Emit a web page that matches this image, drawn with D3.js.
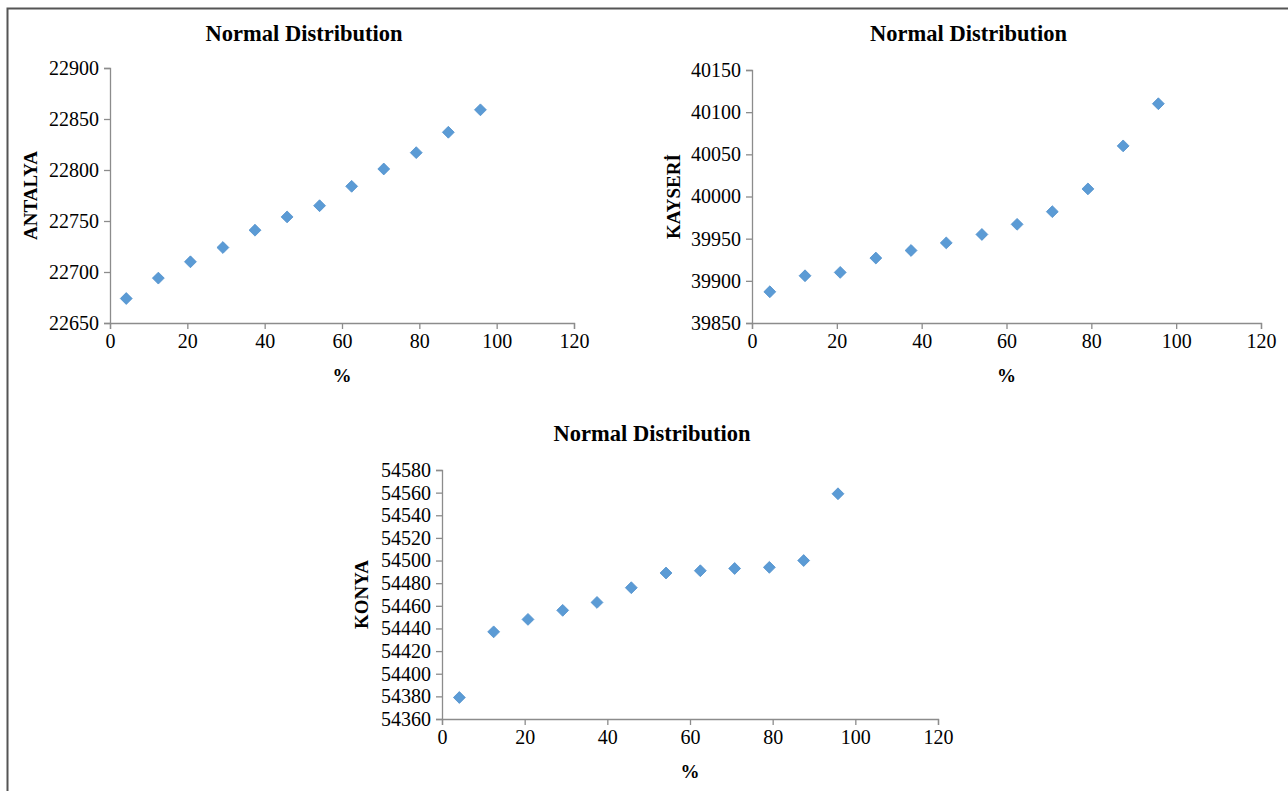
<!DOCTYPE html>
<html>
<head>
<meta charset="utf-8">
<script src="https://cdn.jsdelivr.net/npm/d3@7"></script>
<style>
  body { margin: 0; background: #fff; }
  text { font-family: "Liberation Serif", "Times New Roman", serif; }
</style>
</head>
<body>
<div id="chart"></div>
<script>
// percent positions of the 12 points (same in all three panels)
var pct = [4.2, 12.5, 20.8, 29.2, 37.5, 45.8, 54.2, 62.5, 70.8, 79.2, 87.5, 95.8];

var antalya = [22674, 22694, 22710, 22724, 22741, 22754, 22765, 22784, 22801, 22817, 22837, 22859];
var kayseri = [39887, 39906, 39910, 39927, 39936, 39945, 39955, 39967, 39982, 40009, 40060, 40110];
var konya   = [54379, 54437, 54448, 54456, 54463, 54476, 54489, 54491, 54493, 54494, 54500, 54559];

var xTicks = [0, 20, 40, 60, 80, 100, 120];
var antalyaTicks = [22650, 22700, 22750, 22800, 22850, 22900];
var kayseriTicks = [39850, 39900, 39950, 40000, 40050, 40100, 40150];
var konyaTicks = [54360, 54380, 54400, 54420, 54440, 54460, 54480, 54500, 54520, 54540, 54560, 54580];

var W = 1288, H = 791;

var svg = d3.select("#chart")
  .append("svg")
    .attr("width", W)
    .attr("height", H);

// outer frame (only top and left edges are visible)
svg.append("path")
  .attr("d", "M7.5," + H + "V8.5H" + W)
  .attr("fill", "none")
  .attr("stroke", "#555")
  .attr("stroke-width", 2);

var panels = [
  {name: "ANTALYA", vals: antalya, ticks: antalyaTicks, left: 110, right: 574, top: 68, bottom: 323,
   titleY: 36, ylabX: 33},
  {name: "KAYSERİ", vals: kayseri, ticks: kayseriTicks, left: 752, right: 1261, top: 70, bottom: 323,
   titleY: 36, ylabX: 676},
  {name: "KONYA", vals: konya, ticks: konyaTicks, left: 442, right: 938, top: 470, bottom: 719,
   titleY: 436, ylabX: 364}
];

panels.forEach(function(p) {
  var x = d3.scaleLinear().domain([0, 120]).range([p.left, p.right]);
  var y = d3.scaleLinear()
    .domain([p.ticks[0], p.ticks[p.ticks.length - 1]])
    .range([p.bottom, p.top]);

  var g = svg.append("g");

  // x axis
  var xa = g.append("g")
    .attr("transform", "translate(0," + p.bottom + ")")
    .call(d3.axisBottom(x).tickValues(xTicks).tickSizeOuter(0).tickSize(6).tickPadding(5));

  // y axis
  var ya = g.append("g")
    .attr("transform", "translate(" + p.left + ",0)")
    .call(d3.axisLeft(y).tickValues(p.ticks).tickFormat(d3.format("d")).tickSizeOuter(0).tickSize(6).tickPadding(5));

  [xa, ya].forEach(function(a) {
    a.attr("font-family", "Liberation Serif").attr("font-size", 20);
    a.select(".domain").attr("stroke", "#8c8c8c").attr("stroke-width", 1.3);
    a.selectAll(".tick line").attr("stroke", "#8c8c8c").attr("stroke-width", 1.3);
    a.selectAll(".tick text").attr("fill", "#000");
  });

  // title
  g.append("text")
    .attr("x", (p.left + p.right) / 2 - 38)
    .attr("y", p.titleY)
    .attr("text-anchor", "middle")
    .attr("dominant-baseline", "middle")
    .style("font-size", "22.5px")
    .style("font-weight", "bold")
    .text("Normal Distribution");

  // x title
  g.append("text")
    .attr("x", x(60))
    .attr("y", p.bottom + 55)
    .attr("text-anchor", "middle")
    .attr("dominant-baseline", "middle")
    .style("font-size", "19px")
    .style("font-weight", "bold")
    .text("%");

  // y title
  g.append("text")
    .attr("transform", "translate(" + p.ylabX + "," + ((p.top + p.bottom) / 2) + ") rotate(-90)")
    .attr("text-anchor", "middle")
    .attr("dominant-baseline", "middle")
    .style("font-size", "19px")
    .style("font-weight", "bold")
    .text(p.name);

  // diamond markers
  g.selectAll("path.pt")
    .data(p.vals)
    .enter()
    .append("path")
      .attr("class", "pt")
      .attr("d", d3.symbol().type(d3.symbolDiamond2).size(90))
      .attr("transform", function(d, i) { return "translate(" + x(pct[i]) + "," + y(d) + ")"; })
      .attr("fill", "#5b9bd5")
      .attr("stroke", "#4f8fcb")
      .attr("stroke-width", 0.8);
});
</script>
</body>
</html>
